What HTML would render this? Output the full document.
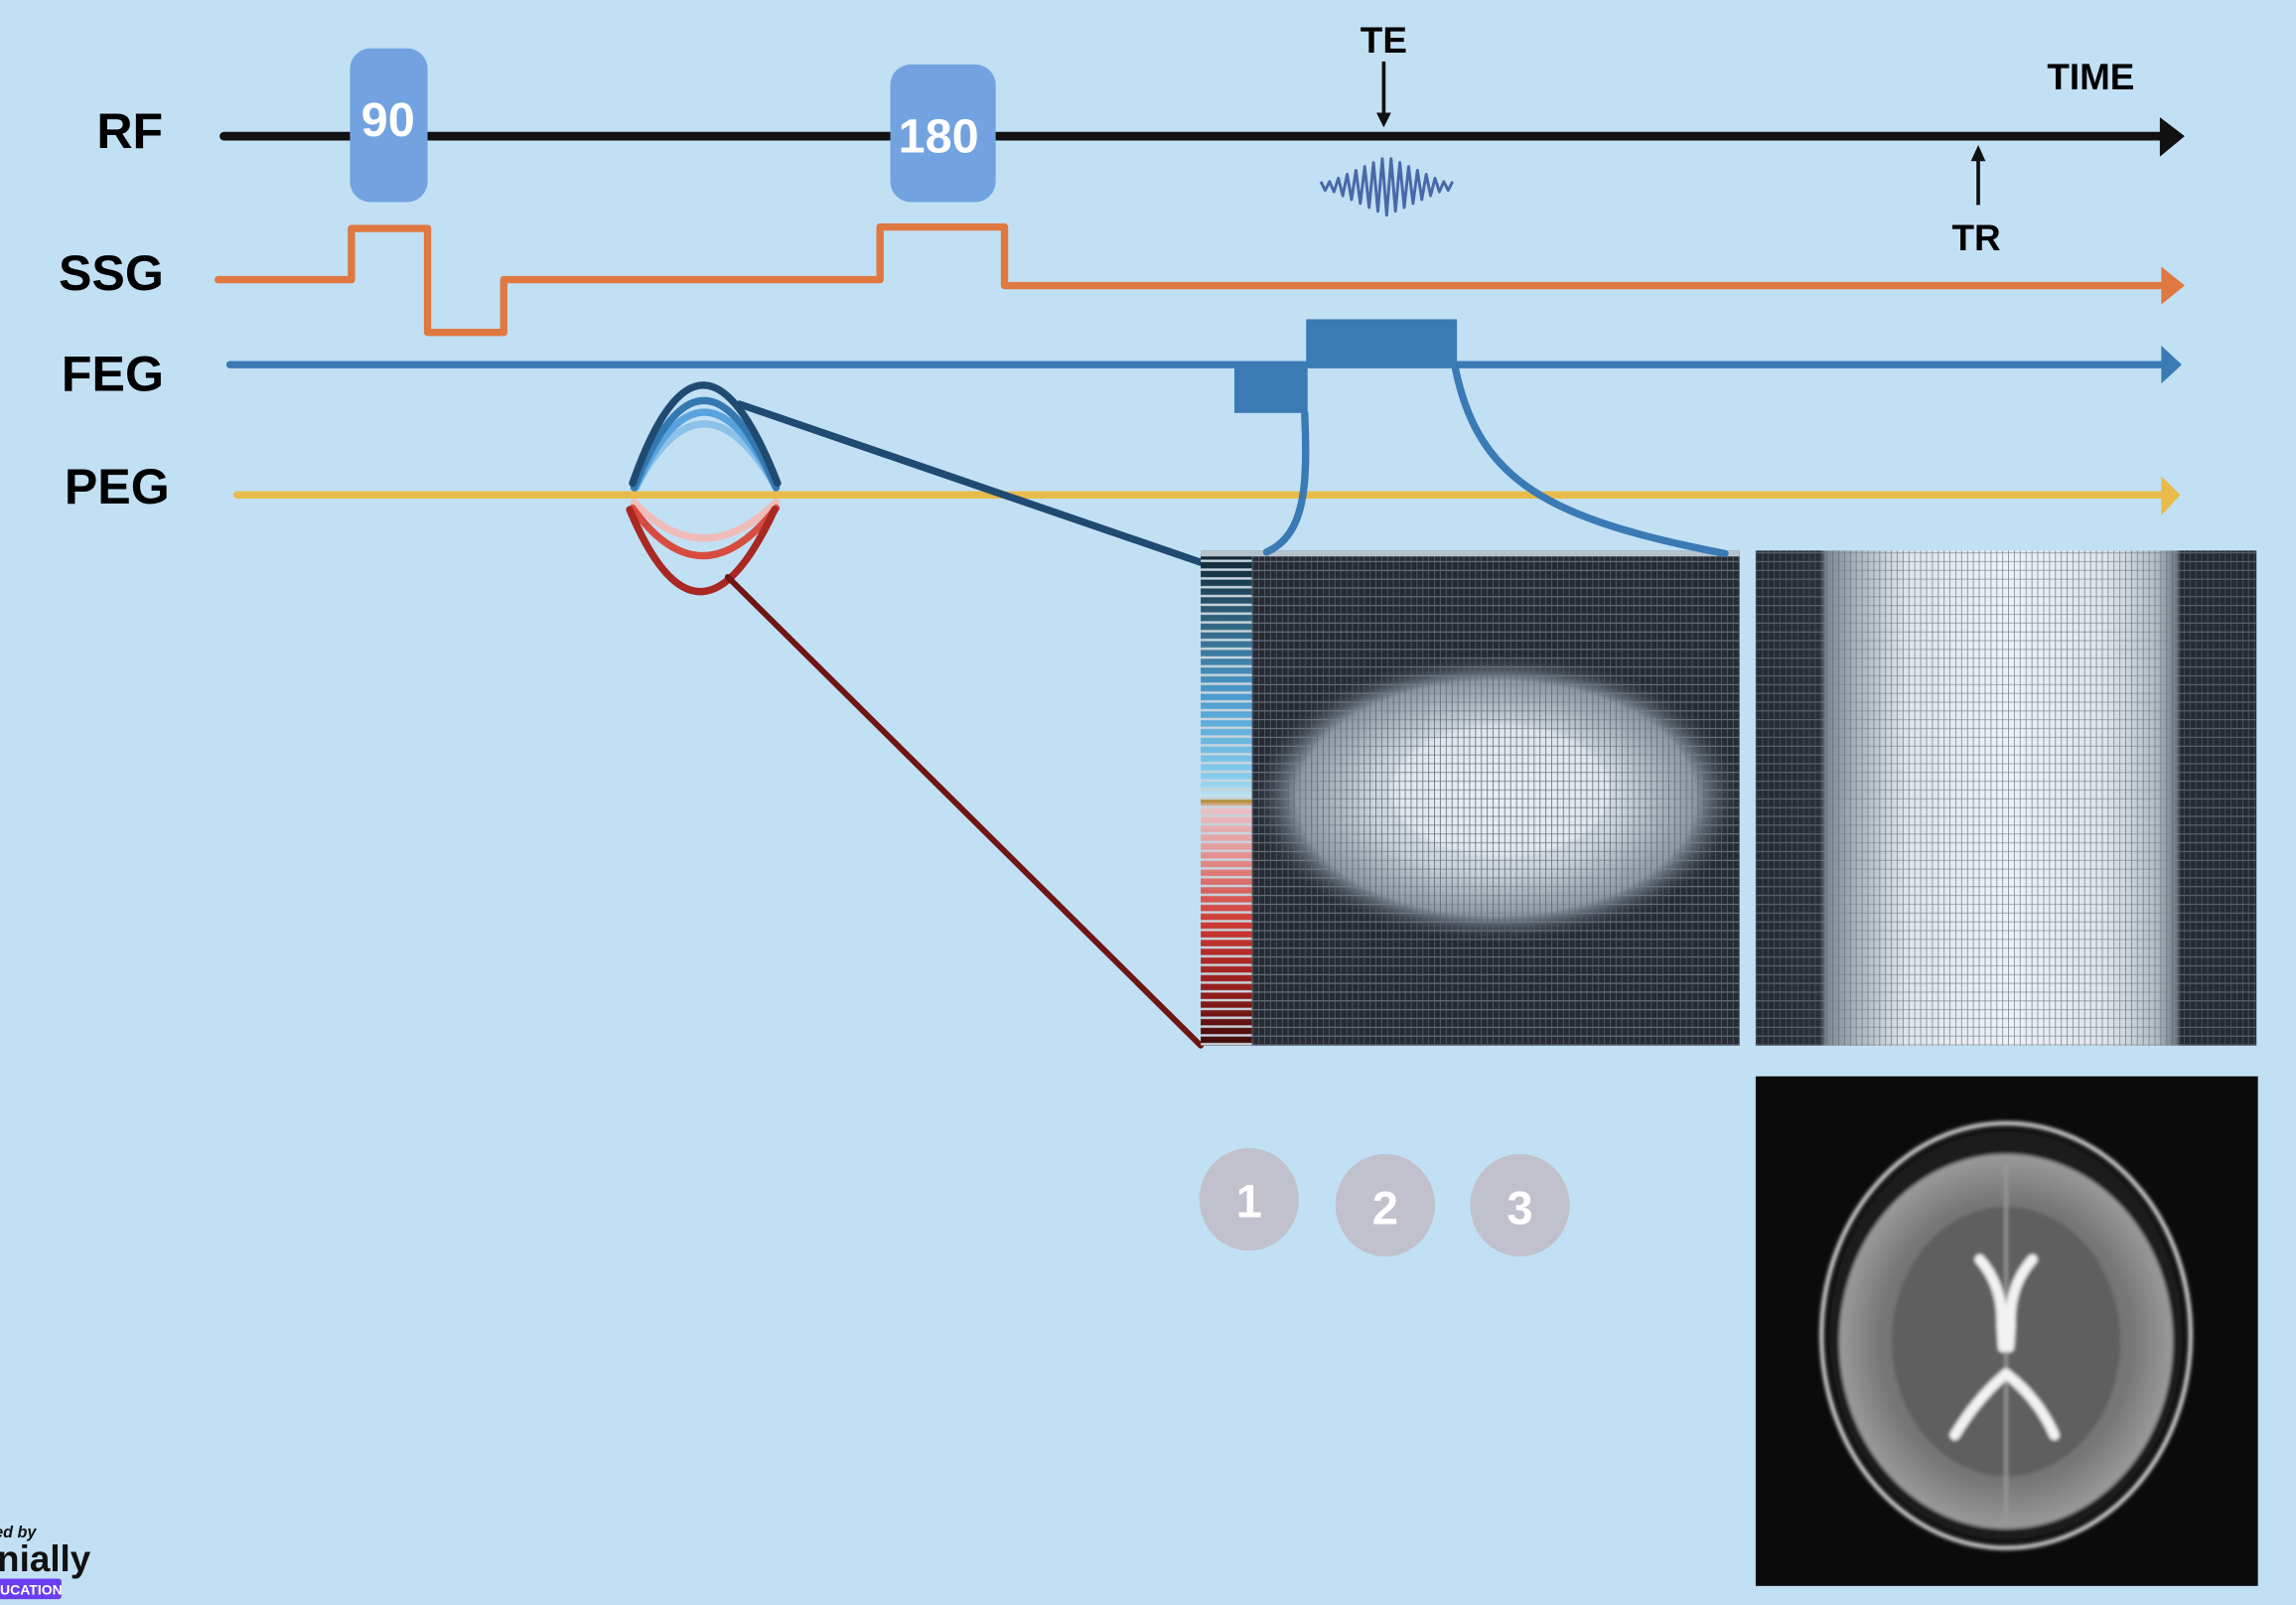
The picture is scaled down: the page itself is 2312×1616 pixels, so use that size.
<!DOCTYPE html>
<html><head><meta charset="utf-8"><style>
html,body{margin:0;padding:0;background:#c2e0f4;}
svg{display:block}
text{font-family:"Liberation Sans",sans-serif;font-weight:bold}
</style></head><body>
<svg width="2312" height="1616" viewBox="0 0 1568 1096" preserveAspectRatio="none" xmlns="http://www.w3.org/2000/svg">
<defs>
<pattern id="grid" width="4" height="6" patternUnits="userSpaceOnUse">
<line x1="0" y1="5.5" x2="4" y2="5.5" stroke="#7f8a96" stroke-width="0.6"/>
<line x1="3.7" y1="0" x2="3.7" y2="6" stroke="#5a6470" stroke-width="0.5"/>
</pattern>
<pattern id="stripes" width="35" height="6" patternUnits="userSpaceOnUse">
<line x1="0" y1="5" x2="35" y2="5" stroke="#c8d4dc" stroke-width="1.6"/>
</pattern>
<linearGradient id="strip" x1="0" y1="0" x2="0" y2="1">
<stop offset="0" stop-color="#0d1f2c"/>
<stop offset="0.12" stop-color="#2b5a74"/>
<stop offset="0.3" stop-color="#4d9ed0"/>
<stop offset="0.46" stop-color="#86cdee"/>
<stop offset="0.5" stop-color="#c5e4ef"/>
<stop offset="0.505" stop-color="#b08a2c"/>
<stop offset="0.52" stop-color="#e9c3c6"/>
<stop offset="0.6" stop-color="#e59b9b"/>
<stop offset="0.75" stop-color="#cf3a34"/>
<stop offset="0.9" stop-color="#8e1c1a"/>
<stop offset="1" stop-color="#3e0a0a"/>
</linearGradient>
<radialGradient id="blob" cx="0.5" cy="0.5" r="0.5">
<stop offset="0" stop-color="#e8edf1"/>
<stop offset="0.5" stop-color="#cdd5dc"/>
<stop offset="0.8" stop-color="#8d98a3"/>
<stop offset="1" stop-color="#252a33" stop-opacity="0"/>
</radialGradient>
<linearGradient id="img2" x1="0" y1="0" x2="1" y2="0">
<stop offset="0" stop-color="#252a33"/>
<stop offset="0.13" stop-color="#2a2f38"/>
<stop offset="0.14" stop-color="#7d8690"/>
<stop offset="0.2" stop-color="#a9b3bc"/>
<stop offset="0.3" stop-color="#dfe5ea"/>
<stop offset="0.5" stop-color="#eef2f5"/>
<stop offset="0.7" stop-color="#dfe5ea"/>
<stop offset="0.8" stop-color="#b4bec6"/>
<stop offset="0.84" stop-color="#6f7882"/>
<stop offset="0.85" stop-color="#252a33"/>
<stop offset="1" stop-color="#252a33"/>
</linearGradient>
<radialGradient id="brain" cx="0.5" cy="0.5" r="0.5">
<stop offset="0" stop-color="#6a6a6a"/>
<stop offset="0.75" stop-color="#767676"/>
<stop offset="1" stop-color="#9a9a9a"/>
</radialGradient>
<filter id="blur1"><feGaussianBlur stdDeviation="1.2"/></filter>
<clipPath id="kc"><rect x="855" y="376" width="333" height="338"/></clipPath>
</defs>

<rect width="1568" height="1096" fill="#c2e0f4"/>

<text x="66" y="101" font-size="34">RF</text>
<text x="40" y="198" font-size="34">SSG</text>
<text x="42" y="267" font-size="34">FEG</text>
<text x="44" y="344" font-size="34">PEG</text>
<text x="929" y="36" font-size="25">TE</text>
<text x="1398" y="61" font-size="25">TIME</text>
<text x="1333" y="171" font-size="25">TR</text>

<line x1="153" y1="93" x2="1480" y2="93" stroke="#111" stroke-width="6" stroke-linecap="round"/>
<polygon points="1475,80 1492,93 1475,107" fill="#111"/>
<rect x="239" y="33" width="53" height="105" rx="14" fill="#72a2e0"/>
<text x="265" y="93" font-size="33" fill="#fff" text-anchor="middle">90</text>
<rect x="608" y="44" width="72" height="94" rx="14" fill="#72a2e0"/>
<text x="641" y="104" font-size="33" fill="#fff" text-anchor="middle">180</text>

<line x1="945" y1="42" x2="945" y2="80" stroke="#111" stroke-width="2.5"/>
<polygon points="940,77 950,77 945,87" fill="#111"/>
<line x1="1351" y1="140" x2="1351" y2="106" stroke="#111" stroke-width="2.5"/>
<polygon points="1346,110 1356,110 1351,99" fill="#111"/>

<polyline fill="none" stroke="#4a68a8" stroke-width="2" stroke-linejoin="round" points="902,124 905,130 908,124 911,131 914,121.7 917,133.7 920,119 923,136.3 926,116.3 929,139 932,113.7 935,141.7 938,111 941,144.3 944,108.3 947,147 950,108.3 953,144.3 956,111 959,141.7 962,113.7 965,139 968,116.3 971,136.3 974,119 977,133.7 980,121.7 983,131 986,124 989,130 992,124"/>

<polyline fill="none" stroke="#e07842" stroke-width="5" stroke-linecap="round" stroke-linejoin="round" points="149,191 240,191 240,156 292,156 292,227 344,227 344,191 601,191 601,155 686,155 686,195 1480,195"/>
<polygon points="1476,182 1492,195 1476,208" fill="#e07842"/>

<line x1="157" y1="249" x2="1480" y2="249" stroke="#3a7ab5" stroke-width="5" stroke-linecap="round"/>
<polygon points="1476,236 1490,249 1476,262" fill="#3a7ab5"/>
<rect x="892" y="218" width="103" height="32" fill="#3a7ab5"/>
<rect x="843" y="250" width="50" height="32" fill="#3a7ab5"/>

<line x1="162" y1="338" x2="1480" y2="338" stroke="#e8bb4a" stroke-width="5" stroke-linecap="round"/>
<polygon points="1476,325 1489,338 1476,352" fill="#e8bb4a"/>

<g fill="none" stroke-width="5" stroke-linecap="round">
<path d="M434,333 Q480,246 530,333" stroke="#8cc2ea"/>
<path d="M434,333 Q480,230 530,333" stroke="#58a3de"/>
<path d="M433,333 Q480,214 530,333" stroke="#3478b2"/>
<path d="M432,330 Q479,196 531,330" stroke="#1f4a72"/>
<path d="M433,343 Q480,392 530,343" stroke="#f0bcb9"/>
<path d="M432,347 Q479,412 530,347" stroke="#d84c40"/>
<path d="M430,348 Q477,460 529,348" stroke="#a82822"/>
</g>
<line x1="505" y1="276" x2="820" y2="384" stroke="#1f4a72" stroke-width="5" stroke-linecap="round"/>
<line x1="497" y1="394" x2="820" y2="714" stroke="#6e1614" stroke-width="4" stroke-linecap="round"/>

<rect x="820" y="376" width="35" height="338" fill="url(#strip)"/>
<rect x="820" y="376" width="35" height="338" fill="url(#stripes)"/>
<rect x="855" y="376" width="333" height="338" fill="#252a33"/>
<g clip-path="url(#kc)">
<ellipse cx="1022" cy="545" rx="170" ry="100" fill="url(#blob)"/>
<ellipse cx="1025" cy="540" rx="75" ry="45" fill="#edf1f4" opacity="0.6" filter="url(#blur1)"/>
</g>
<rect x="855" y="376" width="333" height="338" fill="url(#grid)"/>
<rect x="820" y="376" width="368" height="4" fill="#b5c3cc"/>

<rect x="1199" y="376" width="342" height="338" fill="url(#img2)"/>
<rect x="1199" y="376" width="342" height="338" fill="url(#grid)" opacity="0.8"/>

<path d="M891,282 C893,330 892,365 865,377" fill="none" stroke="#3a7ab5" stroke-width="5" stroke-linecap="round"/>
<path d="M994,252 C1010,330 1060,355 1178,378" fill="none" stroke="#3a7ab5" stroke-width="5" stroke-linecap="round"/>

<ellipse cx="853" cy="819" rx="34" ry="35" fill="#c0c1cc"/>
<ellipse cx="946" cy="823" rx="34" ry="35" fill="#c0c1cc"/>
<ellipse cx="1038" cy="823" rx="34" ry="35" fill="#c0c1cc"/>
<text x="853" y="831" font-size="32" fill="#fff" text-anchor="middle">1</text>
<text x="946" y="836" font-size="32" fill="#fff" text-anchor="middle">2</text>
<text x="1038" y="836" font-size="32" fill="#fff" text-anchor="middle">3</text>

<rect x="1199" y="735" width="343" height="348" fill="#0b0b0b"/>
<g filter="url(#blur1)">
<ellipse cx="1370" cy="912" rx="126" ry="145" fill="none" stroke="#cfcfcf" stroke-width="3"/>
<ellipse cx="1370" cy="912" rx="121" ry="140" fill="#1e1e1e"/>
<ellipse cx="1370" cy="916" rx="114" ry="128" fill="url(#brain)"/>
<ellipse cx="1370" cy="916" rx="78" ry="92" fill="#5e5e5e"/>
<path d="M1370,795 L1370,1040" stroke="#9a9a9a" stroke-width="2"/>
<g fill="none" stroke="#f2f2f2" stroke-width="7" stroke-linecap="round">
<path d="M1352,860 Q1368,878 1367,905 L1368,920"/>
<path d="M1388,860 Q1372,878 1373,905 L1372,920"/>
<path d="M1370,938 Q1350,955 1335,980"/>
<path d="M1370,938 Q1392,955 1403,980"/>
</g>
</g>

<text x="-4" y="1050" font-size="11" fill="#111" font-style="italic">ed by</text>
<text x="-2" y="1073" font-size="25" fill="#111" font-weight="normal">nially</text>
<rect x="-2" y="1078" width="44" height="14" rx="2" fill="#6a3ef0"/>
<text x="0" y="1089" font-size="9.5" fill="#fff">UCATION</text>
</svg>
</body></html>
